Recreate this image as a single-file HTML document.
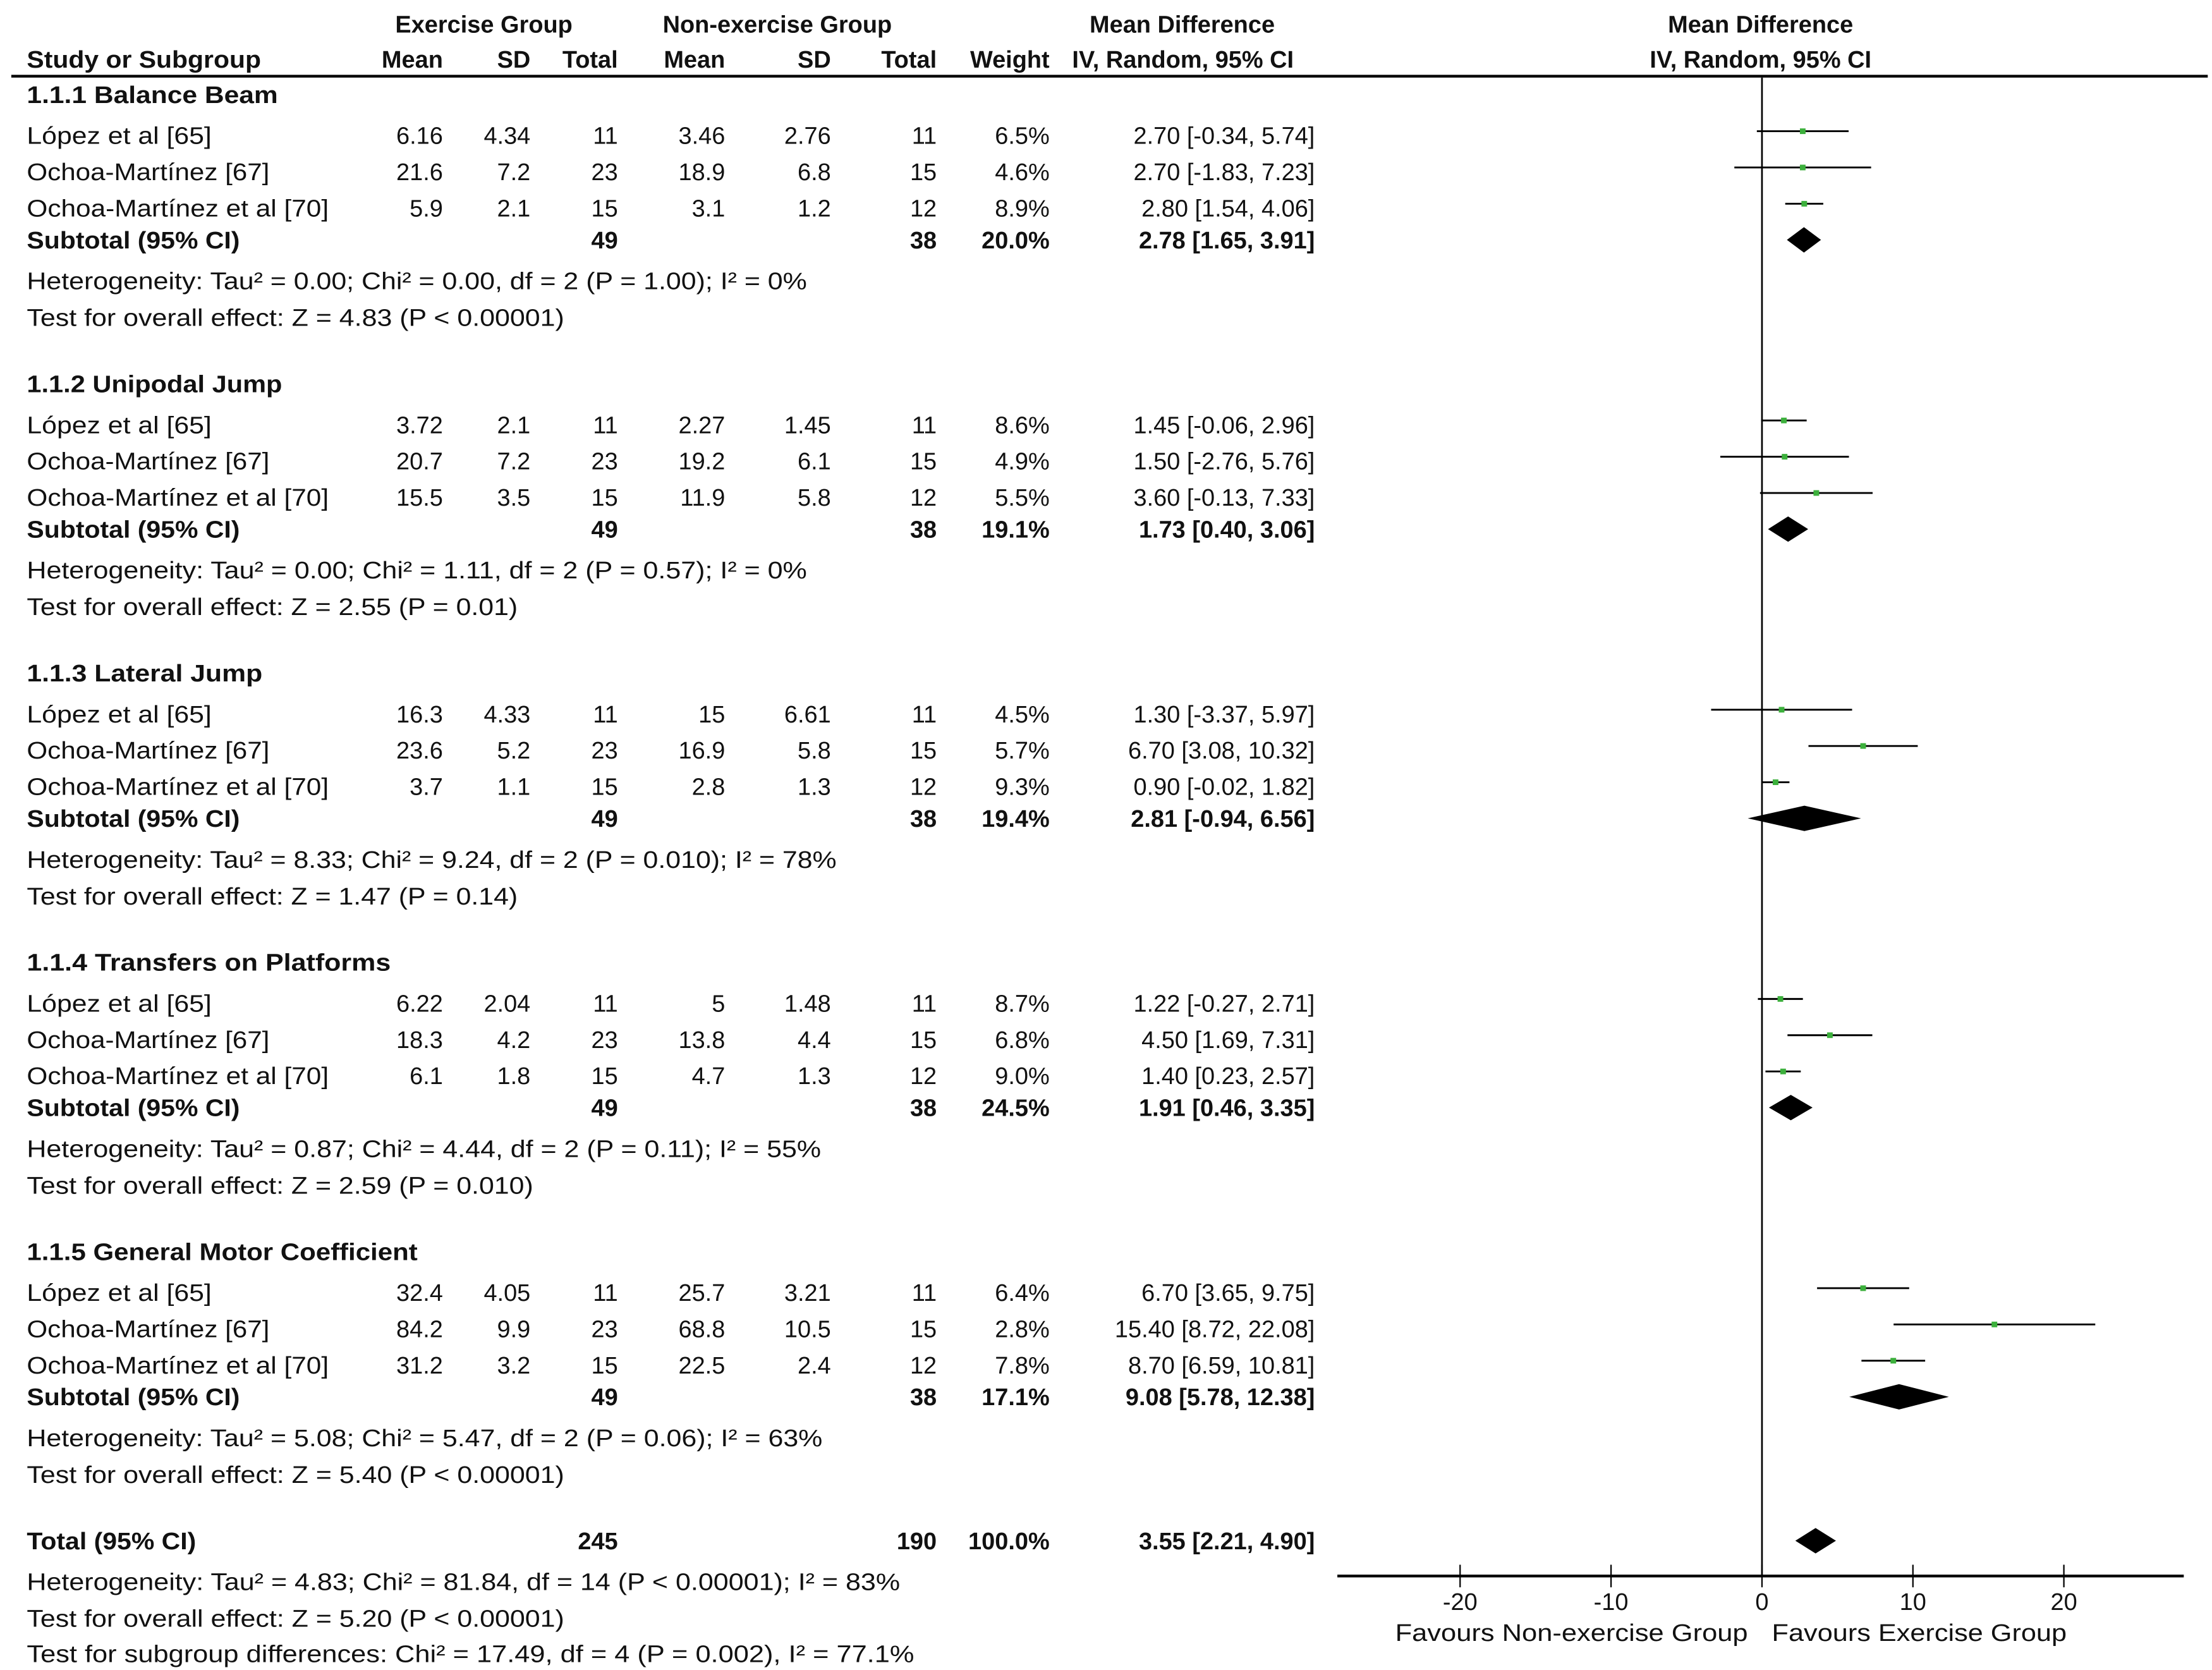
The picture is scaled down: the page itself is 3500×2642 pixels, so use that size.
<!DOCTYPE html>
<html><head><meta charset="utf-8"><style>
html,body{margin:0;padding:0;background:#fff}
svg{display:block}
text{font-family:"Liberation Sans",sans-serif;font-size:17px;fill:#111}
.b{font-weight:bold}
</style></head><body>
<svg id="chart" xmlns="http://www.w3.org/2000/svg" width="3500" height="2642" viewBox="0 0 1568 1183.6">
<g>
<text x="343" y="23" text-anchor="middle" class="b">Exercise Group</text>
<text x="551" y="23" text-anchor="middle" class="b">Non-exercise Group</text>
<text x="838" y="23" text-anchor="middle" class="b">Mean Difference</text>
<text x="1248" y="23" text-anchor="middle" class="b">Mean Difference</text>
<text x="19" y="48" class="b" textLength="166" lengthAdjust="spacingAndGlyphs">Study or Subgroup</text>
<text x="314" y="48" text-anchor="end" class="b">Mean</text>
<text x="376" y="48" text-anchor="end" class="b">SD</text>
<text x="438" y="48" text-anchor="end" class="b">Total</text>
<text x="514" y="48" text-anchor="end" class="b">Mean</text>
<text x="589" y="48" text-anchor="end" class="b">SD</text>
<text x="664" y="48" text-anchor="end" class="b">Total</text>
<text x="744" y="48" text-anchor="end" class="b">Weight</text>
<text x="760" y="48" class="b">IV, Random, 95% CI</text>
<text x="1248" y="48" text-anchor="middle" class="b">IV, Random, 95% CI</text>
<line x1="8" y1="54" x2="1565" y2="54" stroke="#000" stroke-width="2"/>
</g>
<g id="rows"></g>
<g id="plot"></g>
</svg>
<script>
const groupNames=["1.1.1 Balance Beam","1.1.2 Unipodal Jump","1.1.3 Lateral Jump","1.1.4 Transfers on Platforms","1.1.5 General Motor Coefficient"];
const groupNameLen=[178,181,167,258,277];
const studyNames=["López et al [65]","Ochoa-Martínez [67]","Ochoa-Martínez et al [70]"];
const studyNameLen=[131,172,214];
const exMean=[["6.16","21.6","5.9"],["3.72","20.7","15.5"],["16.3","23.6","3.7"],["6.22","18.3","6.1"],["32.4","84.2","31.2"]];
const exSD=[["4.34","7.2","2.1"],["2.1","7.2","3.5"],["4.33","5.2","1.1"],["2.04","4.2","1.8"],["4.05","9.9","3.2"]];
const exN=[11,23,15];
const nonMean=[["3.46","18.9","3.1"],["2.27","19.2","11.9"],["15","16.9","2.8"],["5","13.8","4.7"],["25.7","68.8","22.5"]];
const nonSD=[["2.76","6.8","1.2"],["1.45","6.1","5.8"],["6.61","5.8","1.3"],["1.48","4.4","1.3"],["3.21","10.5","2.4"]];
const nonN=[11,15,12];
const weights=[["6.5%","4.6%","8.9%"],["8.6%","4.9%","5.5%"],["4.5%","5.7%","9.3%"],["8.7%","6.8%","9.0%"],["6.4%","2.8%","7.8%"]];
const md=[[2.70,2.70,2.80],[1.45,1.50,3.60],[1.30,6.70,0.90],[1.22,4.50,1.40],[6.70,15.40,8.70]];
const lo=[[-0.34,-1.83,1.54],[-0.06,-2.76,-0.13],[-3.37,3.08,-0.02],[-0.27,1.69,0.23],[3.65,8.72,6.59]];
const hi=[[5.74,7.23,4.06],[2.96,5.76,7.33],[5.97,10.32,1.82],[2.71,7.31,2.57],[9.75,22.08,10.81]];
const subW=["20.0%","19.1%","19.4%","24.5%","17.1%"];
const subMd=[2.78,1.73,2.81,1.91,9.08];
const subLo=[1.65,0.40,-0.94,0.46,5.78];
const subHi=[3.91,3.06,6.56,3.35,12.38];
const hetText=["Heterogeneity: Tau² = 0.00; Chi² = 0.00, df = 2 (P = 1.00); I² = 0%","Heterogeneity: Tau² = 0.00; Chi² = 1.11, df = 2 (P = 0.57); I² = 0%","Heterogeneity: Tau² = 8.33; Chi² = 9.24, df = 2 (P = 0.010); I² = 78%","Heterogeneity: Tau² = 0.87; Chi² = 4.44, df = 2 (P = 0.11); I² = 55%","Heterogeneity: Tau² = 5.08; Chi² = 5.47, df = 2 (P = 0.06); I² = 63%"];
const hetLen=[553,553,574,563,564];
const testText=["Test for overall effect: Z = 4.83 (P < 0.00001)","Test for overall effect: Z = 2.55 (P = 0.01)","Test for overall effect: Z = 1.47 (P = 0.14)","Test for overall effect: Z = 2.59 (P = 0.010)","Test for overall effect: Z = 5.40 (P < 0.00001)"];
const testLen=[381,348,348,359,381];
const totalMd=3.55, totalLo=2.21, totalHi=4.90;
const xTicks=[-20,-10,0,10,20];

const NS="http://www.w3.org/2000/svg";
const rows=document.getElementById('rows'), plot=document.getElementById('plot');
const X=v=>1249+v*10.7;
function t(parent,x,y,s,anchor,bold,len){const e=document.createElementNS(NS,'text');e.setAttribute('x',x);e.setAttribute('y',y);if(anchor)e.setAttribute('text-anchor',anchor);if(bold)e.setAttribute('class','b');if(len){e.setAttribute('textLength',len);e.setAttribute('lengthAdjust','spacingAndGlyphs');}e.textContent=s;parent.appendChild(e);return e;}
function el(parent,tag,attrs){const e=document.createElementNS(NS,tag);for(const k in attrs)e.setAttribute(k,attrs[k]);parent.appendChild(e);return e;}
const f2=v=>v.toFixed(2);
function diamond(y,m,l,h,name){const d=el(plot,'polygon',{points:`${X(l)},${y} ${X(m)},${y-9} ${X(h)},${y} ${X(m)},${y+9}`,fill:'#000'});

}
for(let g=0;g<5;g++){
  const base=67+g*205;
  const gh=t(rows,19,base+6,groupNames[g],null,true,groupNameLen[g]);
  
  
  for(let i=0;i<3;i++){
    const y=base+29+i*25.7, ty=y+6;
    const r=el(rows,'g',{});
    
    
    t(r,19,ty,studyNames[i],null,false,studyNameLen[i]);
    t(r,314,ty,exMean[g][i],'end');t(r,376,ty,exSD[g][i],'end');t(r,438,ty,exN[i],'end');
    t(r,514,ty,nonMean[g][i],'end');t(r,589,ty,nonSD[g][i],'end');t(r,664,ty,nonN[i],'end');
    t(r,744,ty,weights[g][i],'end');
    t(r,932,ty,f2(md[g][i])+" ["+f2(lo[g][i])+", "+f2(hi[g][i])+"]",'end');
    const ci=el(plot,'line',{x1:X(lo[g][i]),x2:X(hi[g][i]),y1:y-3,y2:y-3,stroke:'#000','stroke-width':1.3});
    
    
    const pt=el(plot,'rect',{x:X(md[g][i])-2,y:y-5,width:4,height:4,fill:'#3cb03c'});
    
    
  }
  const sy=base+103;
  const s=el(rows,'g',{});
  
  
  t(s,19,sy+6,"Subtotal (95% CI)",null,true,151);
  t(s,438,sy+6,"49",'end',true);t(s,664,sy+6,"38",'end',true);
  t(s,744,sy+6,subW[g],'end',true);
  t(s,932,sy+6,f2(subMd[g])+" ["+f2(subLo[g])+", "+f2(subHi[g])+"]",'end',true);
  diamond(sy,subMd[g],subLo[g],subHi[g],'subtotal-diamond');
  const h=t(rows,19,base+138,hetText[g],null,false,hetLen[g]);
  
  
  const o=t(rows,19,base+164,testText[g],null,false,testLen[g]);
  
  
}
const tot=el(rows,'g',{});


t(tot,19,1098,"Total (95% CI)",null,true,120);
t(tot,438,1098,"245",'end',true);t(tot,664,1098,"190",'end',true);
t(tot,744,1098,"100.0%",'end',true);
t(tot,932,1098,f2(totalMd)+" ["+f2(totalLo)+", "+f2(totalHi)+"]",'end',true);
t(tot,19,1127,"Heterogeneity: Tau² = 4.83; Chi² = 81.84, df = 14 (P < 0.00001); I² = 83%",null,false,619);
t(tot,19,1153,"Test for overall effect: Z = 5.20 (P < 0.00001)",null,false,381);
t(tot,19,1178,"Test for subgroup differences: Chi² = 17.49, df = 4 (P = 0.002), I² = 77.1%",null,false,629);
diamond(1092,totalMd,totalLo,totalHi,'total-diamond');
const z=el(plot,'line',{x1:X(0),x2:X(0),y1:55,y2:1117,stroke:'#000','stroke-width':1.2});


const ax=el(plot,'line',{x1:948,x2:1548,y1:1117,y2:1117,stroke:'#000','stroke-width':2});


xTicks.forEach(v=>{
  const tk=el(plot,'line',{x1:X(v),x2:X(v),y1:1109,y2:1125,stroke:'#000','stroke-width':1});
  
  
  const lb=t(plot,X(v),1141,(v<0?"-":"")+Math.abs(v),'middle');
  
  
});
const l1=t(plot,989,1163,"Favours Non-exercise Group",null,false,250);


const l2=t(plot,1256,1163,"Favours Exercise Group",null,false,209);


</script>
</body></html>
